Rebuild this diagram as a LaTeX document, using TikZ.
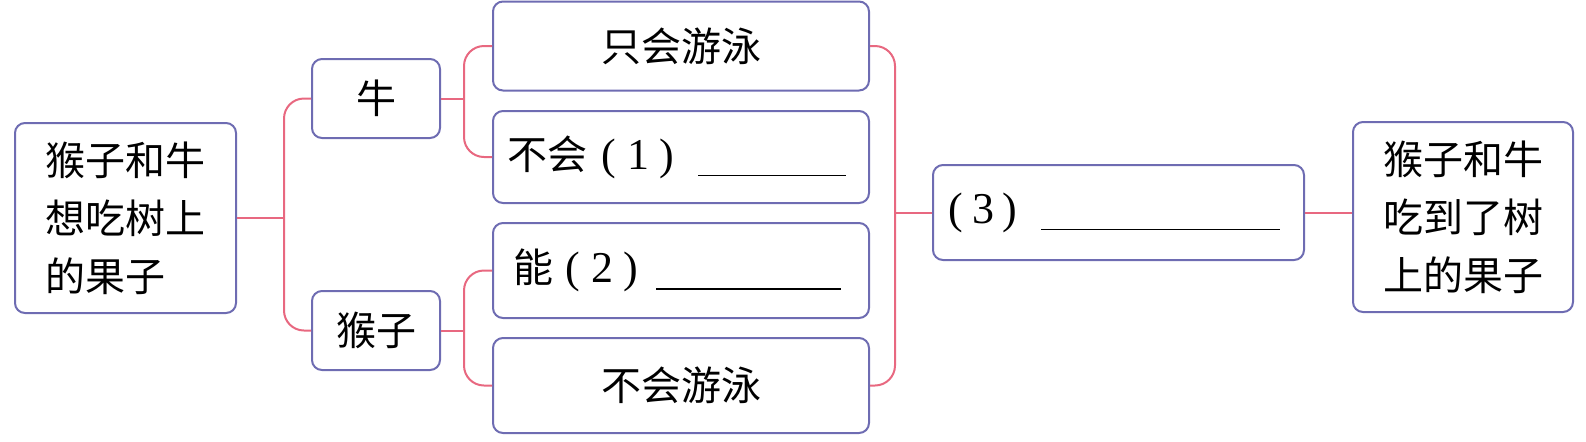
\documentclass[tikz,border=0pt]{standalone}
\usepackage{fontspec}
\usepackage{tikz}
\newfontfamily\cjk{Noto Sans CJK SC}
\newfontfamily\numfont{Liberation Serif}
\newcommand{\nf}{\numfont\fontsize{22}{29}\selectfont}
\definecolor{boxline}{RGB}{110,108,178}
\definecolor{linkline}{RGB}{232,104,128}

\begin{document}
\begin{tikzpicture}[x=0.5pt, y=-0.5pt]
        \tikzstyle{box}=[draw=boxline, line width=1pt, rounded corners=5pt, inner sep=0pt, font=\cjk\fontsize{20}{29}\selectfont]
        \tikzstyle{link}=[draw=linkline, line width=1pt, rounded corners=10pt]
        \useasboundingbox (0,0) rectangle (1586,441);
        \node [box, minimum width=110.5pt, minimum height=95pt, align=left] (wish) at (125.5,218) {猴子和牛\\想吃树上\\的果子};
        \node [box, minimum width=64pt, minimum height=39.5pt] (niu) at (376,98.5) {牛};
        \node [box, minimum width=64pt, minimum height=39.5pt] (hou) at (376,330.5) {猴子};
        \node [box, minimum width=188pt, minimum height=44.5pt] (swim) at (681,46) {只会游泳};
        \node [box, minimum width=188pt, minimum height=46pt, text width=174pt, align=left] (nos) at (681,157) {不会{\nf\hspace{7pt}(\hspace{6pt}1\hspace{5pt})}\hspace{12pt}\rule[-3.5pt]{74pt}{0.7pt}};
        \node [box, minimum width=188pt, minimum height=47.5pt, text width=168pt, align=left] (can) at (681,270.5) {能{\nf\hspace{6pt}(\hspace{6pt}2\hspace{5pt})}\hspace{9pt}\rule[-3.5pt]{92.5pt}{0.7pt}};
        \node [box, minimum width=188pt, minimum height=47.5pt] (noswim) at (681,385.5) {不会游泳};
        \node [box, minimum width=185.5pt, minimum height=47.5pt, text width=170.5pt, align=left] (ans) at (1118.5,212.5) {{\nf(\hspace{5pt}3\hspace{4pt})}\hspace{12pt}\rule[-3.5pt]{119.5pt}{0.7pt}};
        \node [box, minimum width=110pt, minimum height=95pt, align=left] (fruit) at (1463,217) {猴子和牛\\吃到了树\\上的果子};
        \coordinate (fork1) at (284,0);
        \coordinate (fork2) at (464,0);
        \coordinate (fork3) at (895,0);
        \draw [link] (wish.east) -- (fork1 |- wish.east);
        \draw [link] (niu.west) -| (fork1 |- wish.east) |- (hou.west);
        \draw [link] (niu.east) -- (fork2 |- niu.east);
        \draw [link] (swim.west) -| (fork2 |- niu.east) |- (nos.west);
        \draw [link] (hou.east) -- (fork2 |- hou.east);
        \draw [link] (can.west) -| (fork2 |- hou.east) |- (noswim.west);
        \draw [link] (swim.east) -| (fork3 |- ans.west) |- (noswim.east);
        \draw [link] (fork3 |- ans.west) -- (ans.west);
        \draw [link] (ans.east) -- (ans.east -| fruit.west);
    \end{tikzpicture}
\end{document}
